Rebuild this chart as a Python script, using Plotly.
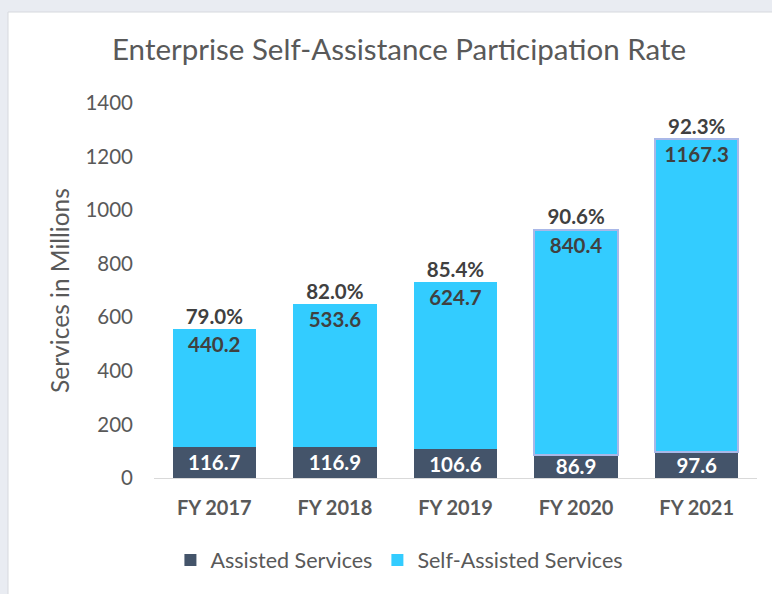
import plotly.graph_objects as go

# datos
years = ["FY 2017", "FY 2018", "FY 2019", "FY 2020", "FY 2021"]
assisted = [116.7, 116.9, 106.6, 86.9, 97.6]
self_assisted = [440.2, 533.6, 624.7, 840.4, 1167.3]
rates = ["79.0%", "82.0%", "85.4%", "90.6%", "92.3%"]

totals = [a + s for a, s in zip(assisted, self_assisted)]

font_name = "Lato"
grey = "#595959"
dark = "#404040"

fig = go.Figure()

fig.add_trace(go.Bar(
    x=years, y=assisted, name="Assisted Services",
    marker=dict(color="#44546A", line=dict(width=0)),
    text=[f"{v:.1f}" for v in assisted],
    textposition="inside", insidetextanchor="middle", constraintext="none",
    textfont=dict(family=font_name, size=20.5, color="white", weight="bold"),
    hoverinfo="skip",
))

fig.add_trace(go.Bar(
    x=years, y=self_assisted, name="Self-Assisted Services",
    marker=dict(color="#33CCFF",
                line=dict(width=[0, 0, 0, 2, 2], color="#A9B8E8")),
    text=[f"{v:.1f}" for v in self_assisted],
    textposition="inside", insidetextanchor="end", constraintext="none",
    textfont=dict(family=font_name, size=20.5, color=dark, weight="bold"),
    hoverinfo="skip",
))

# porcentajes arriba de cada barra
fig.add_trace(go.Scatter(
    x=years, y=totals, mode="text", text=rates,
    textposition="top center", showlegend=False,
    textfont=dict(family=font_name, size=20.5, color=dark, weight="bold"),
    hoverinfo="skip",
))

# marco de la imagen: fondo gris claro y area blanca
l, r, t, b = 154, 15, 103, 116
pw, ph = 772 - l - r, 594 - t - b
fig.add_shape(
    type="rect", xref="paper", yref="paper", layer="below",
    x0=(8 - l) / pw, x1=(772 - l) / pw + 0.01,
    y0=-(b + 5) / ph, y1=(594 - b - 12) / ph,
    fillcolor="white", line=dict(color="#D6D9DE", width=1),
)

fig.update_layout(
    width=772, height=594,
    barmode="stack", bargap=0.31,
    margin=dict(l=l, r=r, t=t, b=b),
    paper_bgcolor="#E9ECF2",
    plot_bgcolor="rgba(0,0,0,0)",
    font=dict(family=font_name, color=grey),
    title=dict(
        text="Enterprise Self-Assistance Participation Rate",
        x=399 / 772, xref="container", xanchor="center",
        y=1 - 50 / 594, yref="container", yanchor="middle",
        font=dict(size=29.5, color=grey),
    ),
    xaxis=dict(
        showgrid=False, showline=True, linecolor="#D9D9D9", linewidth=1,
        ticks="", ticklabelstandoff=12,
        tickfont=dict(size=20, color=grey, weight="bold"),
    ),
    yaxis=dict(
        range=[0, 1400], dtick=200, showgrid=False, showline=False,
        zeroline=False, ticks="", ticklabelstandoff=20,
        tickfont=dict(size=20.5, color=grey),
        title=dict(text="Services in Millions", standoff=8,
                   font=dict(size=24.5, color=grey)),
    ),
    legend=dict(
        orientation="h", x=0.407, xanchor="center",
        y=-(560 - 478) / ph, yanchor="middle",
        font=dict(size=21.5, color=grey), traceorder="normal",
        bgcolor="rgba(0,0,0,0)",
    ),
    showlegend=True,
)

# sin margen del body para que la figura ocupe toda la ventana
fig.write_html("out.html", config={"displayModeBar": False},
               post_script="document.body.style.margin='0';")
